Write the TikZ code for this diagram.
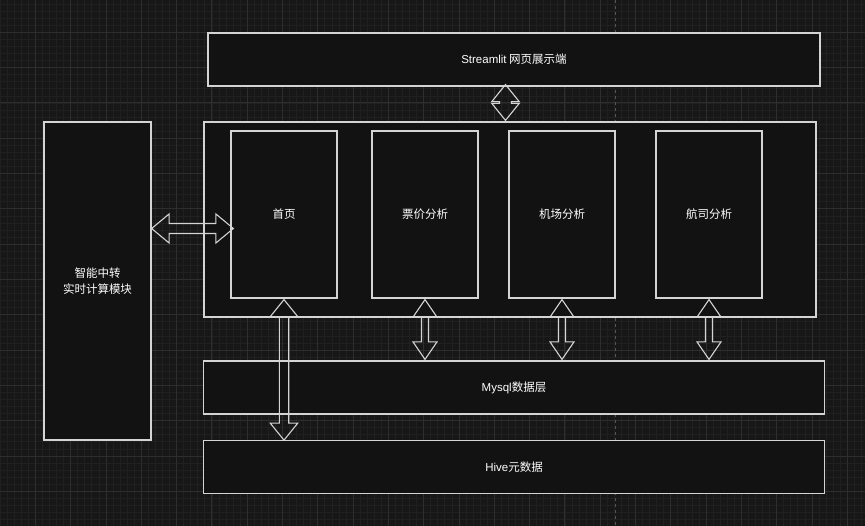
\documentclass[tikz,border=0pt]{standalone}
\usepackage{fontspec}
\setmainfont{Noto Sans CJK SC}
\newfontfamily\latinfont{Liberation Sans}
\usetikzlibrary{calc}
\definecolor{bgc}{HTML}{171717}
\definecolor{boxfill}{HTML}{121212}
\definecolor{minorc}{HTML}{202020}
\definecolor{majorc}{HTML}{2E2E2E}
\definecolor{edgec}{HTML}{D4D4D4}
\definecolor{pagec}{HTML}{555555}
\tikzset{
  box/.style={draw=edgec, fill=boxfill, line width=1.2pt, text=white, inner sep=0pt,
    font=\fontsize{11.5}{16}\selectfont, align=center},
  blockarrow/.style={draw=edgec, line width=1.1pt, line join=miter},
  minorgrid/.style={draw=minorc, line width=0.6pt},
  majorgrid/.style={draw=majorc, line width=0.8pt},
}
% vertical double block arrow: top tip, bottom tip, head half width, shaft half width, head length
\newcommand\vdblarrow[5]{%
  \draw[blockarrow] let \p1=(#1), \p2=(#2) in
    (\x1,\y1) -- (\x1+#3,\y1-#5) -- (\x1+#4,\y1-#5) -- (\x1+#4,\y2+#5) -- (\x1+#3,\y2+#5)
    -- (\x1,\y2) -- (\x1-#3,\y2+#5) -- (\x1-#4,\y2+#5) -- (\x1-#4,\y1-#5) -- (\x1-#3,\y1-#5) -- cycle;}
% horizontal double block arrow: left tip, right tip, head half width, shaft half width, head length
\newcommand\hdblarrow[5]{%
  \draw[blockarrow] let \p1=(#1), \p2=(#2) in
    (\x1,\y1) -- (\x1+#5,\y1+#3) -- (\x1+#5,\y1+#4) -- (\x2-#5,\y1+#4) -- (\x2-#5,\y1+#3)
    -- (\x2,\y1) -- (\x2-#5,\y1-#3) -- (\x2-#5,\y1-#4) -- (\x1+#5,\y1-#4) -- (\x1+#5,\y1-#3) -- cycle;}
\begin{document}
\begin{tikzpicture}[x=1pt,y=-1pt]
\fill[bgc] (0,0) rectangle (865,526);
\useasboundingbox (0,0) rectangle (865,526);
% grid
\foreach \i in {0,...,123} {\draw[minorgrid] ({\i*7.06},0) -- ({\i*7.06},526);}
\foreach \i in {0,...,75} {\draw[minorgrid] (0,{-3+\i*7.06}) -- (865,{-3+\i*7.06});}
\foreach \i in {1,...,24} {\draw[majorgrid] ({\i*35.3},0) -- ({\i*35.3},526);}
\foreach \i in {0,...,14} {\draw[majorgrid] (0,{32.3+\i*35.3}) -- (865,{32.3+\i*35.3});}
% page break line
\draw[pagec, line width=1pt, dash pattern=on 3pt off 3pt] (615,0) -- (615,526);
% boxes
\node[box, minimum width=612, minimum height=53] (stream) at (514,59.5) {{\latinfont Streamlit} 网页展示端};
\node[box, minimum width=612, minimum height=195] (main) at (510,219.5) {};
\node[box, minimum width=106, minimum height=167] (home) at (284,214.5) {首页};
\node[box, minimum width=106, minimum height=167] (fare) at (425,214.5) {票价分析};
\node[box, minimum width=106, minimum height=167] (airport) at (562,214.5) {机场分析};
\node[box, minimum width=106, minimum height=167] (airline) at (709,214.5) {航司分析};
\node[box, minimum width=621, minimum height=53] (mysql) at (514,387.5) {{\latinfont Mysql}数据层};
\node[box, minimum width=621, minimum height=53] (hive) at (514,467.3) {{\latinfont Hive}元数据};
\node[box, minimum width=107, minimum height=318] (left) at (97.5,281) {智能中转\\实时计算模块};
% arrows
\coordinate (sa) at ($(stream.south)+(-8.5,-2)$);
\coordinate (sb) at ($(sa |- main.north)+(0,-1)$);
\vdblarrow{sa}{sb}{13.7pt}{6pt}{17pt}
\coordinate (ha) at ($(left.east |- home.west)+(0,14)$);
\coordinate (hb) at ($(home.west)+(3,14)$);
\hdblarrow{ha}{hb}{14.5pt}{5pt}{17.5pt}
\coordinate (hv1) at ($(home.south)+(0,1)$);
\coordinate (hv2) at (home.south |- hive.north);
\vdblarrow{hv1}{hv2}{13.7pt}{4.7pt}{17pt}
\coordinate (fa1) at ($(fare.south)+(0,1)$);
\coordinate (fa2) at ($(fare.south |- mysql.north)+(0,-1)$);
\vdblarrow{fa1}{fa2}{12pt}{3.5pt}{17.5pt}
\coordinate (ap1) at ($(airport.south)+(0,1)$);
\coordinate (ap2) at ($(airport.south |- mysql.north)+(0,-1)$);
\vdblarrow{ap1}{ap2}{12pt}{3.5pt}{17.5pt}
\coordinate (al1) at ($(airline.south)+(0,1)$);
\coordinate (al2) at ($(airline.south |- mysql.north)+(0,-1)$);
\vdblarrow{al1}{al2}{12pt}{3.5pt}{17.5pt}
\end{tikzpicture}
\end{document}
